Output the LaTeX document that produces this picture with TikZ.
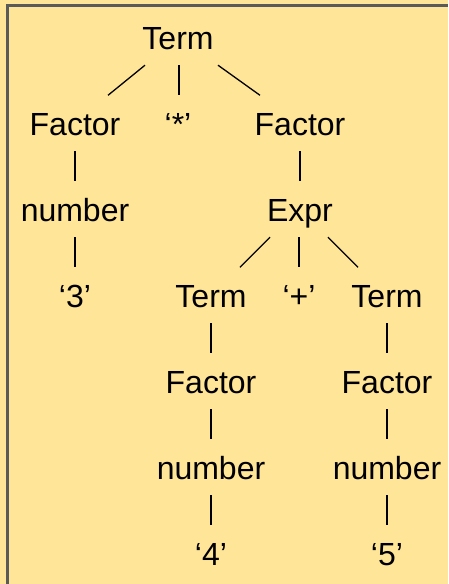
\documentclass[tikz,border=0pt]{standalone}
\usepackage{fontspec}
\setmainfont{Liberation Sans}
\definecolor{bgyellow}{HTML}{FFE598}
\definecolor{framegrey}{HTML}{5A5A5A}
\begin{document}
\begin{tikzpicture}[x=1pt,y=-1pt,
  lbl/.style={anchor=base,inner sep=0pt,text height=40pt,text depth=15.5pt,font=\fontsize{32}{38}\selectfont},
  edge/.style={line width=1.3pt,black}]
\fill[bgyellow] (0,0) rectangle (448,584);
\useasboundingbox (0,0) rectangle (448,584);
\draw[framegrey,line width=3pt] (7.7,584) -- (7.7,5) -- (448,5);
\node[lbl] (t0) at (178,49.5) {Term};
\node[lbl] (f1) at (75,135.5) {Factor};
\node[lbl] (st) at (178,135.5) {‘*’};
\node[lbl] (f2) at (300,135.5) {Factor};
\node[lbl] (n1) at (75,221.5) {number};
\node[lbl] (ex) at (300,221.5) {Expr};
\node[lbl] (d3) at (75,307.5) {‘3’};
\node[lbl] (t1) at (211,307.5) {Term};
\node[lbl] (pl) at (299,307.5) {‘+’};
\node[lbl] (t2) at (387,307.5) {Term};
\node[lbl] (f3) at (211,393.5) {Factor};
\node[lbl] (f4) at (387,393.5) {Factor};
\node[lbl] (n2) at (211,479.5) {number};
\node[lbl] (n3) at (387,479.5) {number};
\node[lbl] (d4) at (211,565.5) {‘4’};
\node[lbl] (d5) at (387,565.5) {‘5’};
\draw[edge] ([xshift=-33pt]t0.south) -- ([xshift=33pt]f1.north);
\draw[edge] ([xshift=1pt]t0.south) -- ([xshift=1pt]st.north);
\draw[edge] ([xshift=40pt]t0.south) -- ([xshift=-40pt]f2.north);
\draw[edge] (f1.south) -- (n1.north);
\draw[edge] (n1.south) -- (d3.north);
\draw[edge] (f2.south) -- (ex.north);
\draw[edge] ([xshift=-30pt]ex.south) -- ([xshift=29pt]t1.north);
\draw[edge] ([xshift=-1pt]ex.south) -- (pl.north);
\draw[edge] ([xshift=28pt]ex.south) -- ([xshift=-29pt]t2.north);
\draw[edge] (t1.south) -- (f3.north);
\draw[edge] (t2.south) -- (f4.north);
\draw[edge] (f3.south) -- (n2.north);
\draw[edge] (f4.south) -- (n3.north);
\draw[edge] (n2.south) -- (d4.north);
\draw[edge] (n3.south) -- (d5.north);
\end{tikzpicture}
\end{document}
